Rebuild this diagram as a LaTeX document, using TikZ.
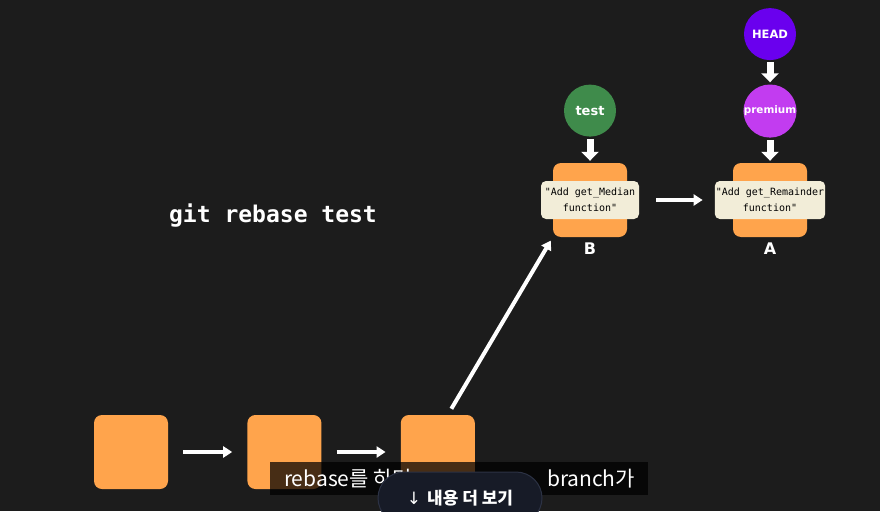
\documentclass[tikz,border=0pt]{standalone}
\usepackage{fontspec}
\setmainfont{DejaVu Sans}
\newfontfamily\monofont{DejaVu Sans Mono}
\newfontfamily\krfont{Noto Sans CJK KR}
\newfontfamily\symfont{DejaVu Sans}
\usetikzlibrary{arrows.meta,positioning,shapes}

\definecolor{bg}{HTML}{1C1C1C}
\definecolor{commitorange}{HTML}{FFA44C}
\definecolor{msgbeige}{HTML}{F2EDD8}
\definecolor{testgreen}{HTML}{3F8B4B}
\definecolor{headpurple}{HTML}{6A00EE}
\definecolor{premiumpink}{HTML}{C23CF0}
\definecolor{pillbg}{HTML}{171B27}
\definecolor{pillline}{HTML}{2C3244}

\begin{document}
\begin{tikzpicture}[x=1pt,y=-1pt,
                    commit/.style={fill=commitorange,rounded corners=8pt,minimum size=74pt,inner sep=0pt},
                    msg/.style={fill=msgbeige,rounded corners=5pt,align=center,inner xsep=1pt,
                                minimum width=98pt,minimum height=38pt,
                                font=\monofont\fontsize{10}{16}\selectfont},
                    ref/.style={circle,minimum size=52pt,inner sep=0pt,text=white,
                                font=\bfseries\fontsize{11.5}{14}\selectfont},
                    label/.style={text=white,font=\bfseries\fontsize{16}{19}\selectfont,inner sep=0pt},
                    link/.style={-{Triangle[length=9pt,width=11pt]},white,line width=4pt},
                    pointer/.style={-{Triangle[length=9pt,width=17pt]},white,line width=7pt,
                                    shorten <=2pt,shorten >=2pt},
                    captext/.style={text=white,font=\krfont\fontsize{21}{24}\selectfont,inner sep=0pt}]

  \fill[bg] (0,0) rectangle (880,511);
  \clip (0,0) rectangle (880,511);

  % commits
  \node[commit] (c1) at (131,452)      {};
  \node[commit] (c2) [right=79pt of c1] {};
  \node[commit] (c3) [right=79pt of c2] {};
  \node[commit] (B)  at (590,200)      {};
  \node[commit] (A)  at (770,200)      {};

  \node[msg]   (Bmsg) at (B) {"Add get\_Median\\function"};
  \node[msg]   (Amsg) at (A) {"Add get\_Remainder\\function"};
  \node[label] (Bname) [below=5pt of B] {B};
  \node[label] (Aname) [below=5pt of A] {A};

  % refs
  \node[ref,fill=testgreen,font=\bfseries\fontsize{13}{15}\selectfont]
               (test)    [above=26pt of B]       {test};
  \node[ref,fill=premiumpink,font=\bfseries\fontsize{10.4}{12}\selectfont]
               (premium) [above=25pt of A]       {premium};
  \node[ref,fill=headpurple]  (HEAD)    [above=24pt of premium] {HEAD};

  \node[text=white,font=\monofont\bfseries\fontsize{23}{26}\selectfont] (cmd) at (273,216) {git rebase test};

  \path[link] (c1) edge [shorten <=15pt,shorten >=15pt] (c2)
              (c2) edge [shorten <=15pt,shorten >=15pt] (c3)
              (Bmsg) edge [shorten <=17pt,shorten >=12pt] (Amsg)
              ([xshift=10pt]c3.north) edge [shorten <=7pt,shorten >=4pt] (B.south west);

  \path[pointer] (test)    edge (B)
                 (HEAD)    edge (premium)
                 (premium) edge (A);

  % subtitle overlay
  \node[fill=black,fill opacity=0.72,minimum width=378pt,minimum height=33pt,inner sep=0pt]
        (cap) at (459,478.5) {};
  \node[captext,anchor=west] (capl) at ([xshift=14pt]cap.west)  {rebase를 하면};
  \node[captext,anchor=east] (capr) at ([xshift=-13pt]cap.east) {branch가};
  \node[fill=pillbg,draw=pillline,line width=1pt,rounded corners=26pt,
        minimum width=164pt,minimum height=52pt,text=white,
        font=\krfont\bfseries\fontsize{17}{19}\selectfont] (more) at (460,498)
        {{\symfont\mdseries ↓}\hspace{6pt}내용 더 보기};
\end{tikzpicture}
\end{document}
